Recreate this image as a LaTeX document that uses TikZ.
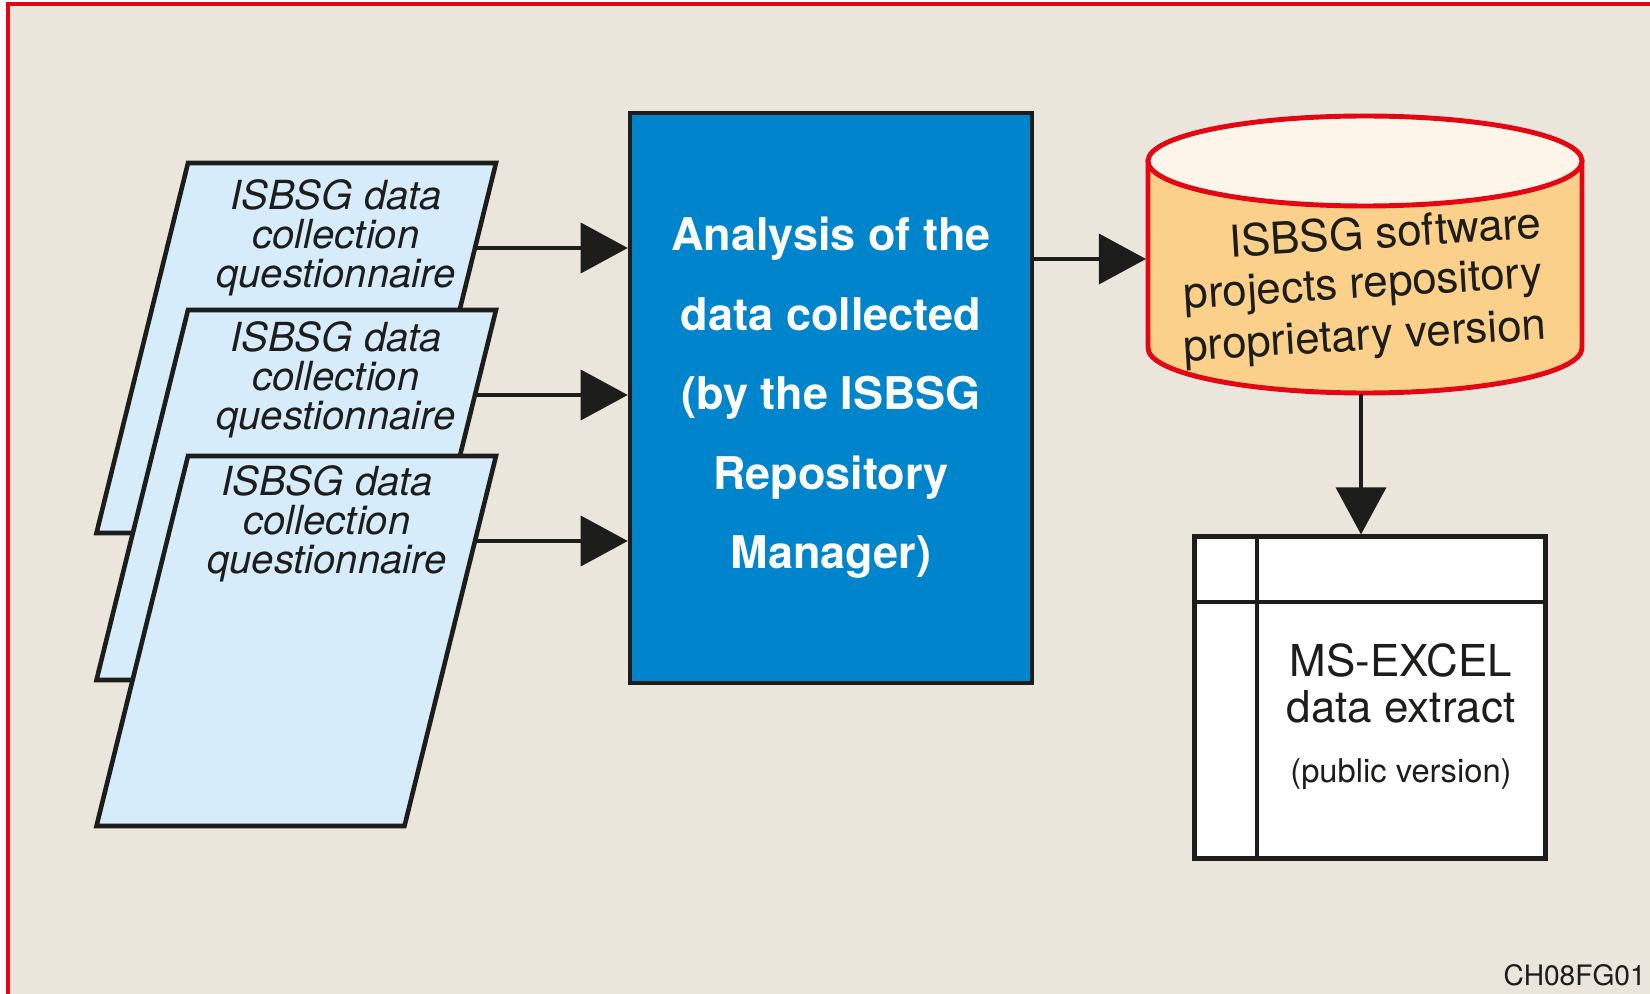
\documentclass[tikz,border=0pt]{standalone}
\usepackage{fontspec}
\setmainfont{TeX Gyre Heros}
\usepackage{tikz}
\usetikzlibrary{arrows.meta}

\definecolor{paper}{RGB}{234,230,220}
\definecolor{rimred}{RGB}{227,6,19}
\definecolor{ink}{RGB}{29,29,27}
\definecolor{sheet}{RGB}{214,236,250}
\definecolor{boxblue}{RGB}{0,133,204}
\definecolor{drum}{RGB}{251,208,138}
\definecolor{drumtop}{RGB}{253,245,233}

\begin{document}
\begin{tikzpicture}[x=0.01cm, y=-0.01cm,
		flow/.style={draw=ink, line width=1pt, -{Triangle[length=0.47cm, width=0.5cm]}},
		qtext/.style={font=\fontsize{11.4}{11.1}\selectfont\itshape, align=center, text=ink, inner sep=0pt},
		rtext/.style={anchor=base east, rotate=3.5, inner sep=0pt, text=ink, font=\fontsize{12.5}{14}\selectfont}]
		\def\w{308};
		\def\h{370};
		\def\sk{91.5};

		\def\rx{217};
		\def\ry{45};

		\useasboundingbox (0,0) rectangle (1650,994);
		\fill[white] (0,0) rectangle (1650,994);
		\fill[paper] (8,4) rectangle (1650,994);
		\draw[rimred, line width=0.9pt] (8,994) -- (8,4) -- (1650,4);

		% questionnaires
		\begin{scope}[draw=ink, fill=sheet, line width=1.3pt]
			\filldraw (188,163) -- ++(\w,0) -- ++(-\sk,\h) -- ++(-\w,0) -- cycle;
			\filldraw (188,310) -- ++(\w,0) -- ++(-\sk,\h) -- ++(-\w,0) -- cycle;
			\filldraw (188,456) -- ++(\w,0) -- ++(-\sk,\h) -- ++(-\w,0) -- cycle;
		\end{scope}

		\node[qtext] (q1) at (336,238) {ISBSG data\\collection\\questionnaire};
		\node[qtext] (q2) at (336,380) {ISBSG data\\collection\\questionnaire};
		\node[qtext] (q3) at (327,524) {ISBSG data\\collection\\questionnaire};

		\coordinate (q1e) at (475,248);
		\coordinate (q2e) at (475,395);
		\coordinate (q3e) at (475,541);

		\node[draw=ink, line width=1.2pt, fill=boxblue, text=white, align=center,
			minimum width=4.02cm, minimum height=5.7cm,
			font=\fontsize{12.8}{22.6}\selectfont\bfseries] (ana) at (831,398)
			{Analysis of the\\data collected\\(by the ISBSG\\Repository\\Manager)};

		\draw[flow] (q1e) -- (q1e -| ana.west);
		\draw[flow] (q2e) -- (q2e -| ana.west);
		\draw[flow] (q3e) -- (q3e -| ana.west);

		% repository
		\begin{scope}[draw=rimred, line width=1.4pt]
			\filldraw[fill=drum] (1148,161) -- (1148,348)
				arc[start angle=180, end angle=0, x radius=\rx, y radius=\ry] -- (1582,161) -- cycle;
			\filldraw[fill=drumtop] (1365,161) ellipse [x radius=\rx, y radius=\ry];
		\end{scope}

		\node[rtext] (repo1) at (1543,238) {ISBSG software};
		\node[rtext] (repo2) at (1544,287) {projects repository};
		\node[rtext] (repo3) at (1548,339) {proprietary version};

		\coordinate (repoW) at (1146,259);
		\coordinate (repoS) at (1361,394);

		\draw[flow] (ana.east |- repoW) -- (repoW);

		% excel extract
		\node[draw=ink, line width=1.4pt, fill=white, minimum width=3.51cm, minimum height=3.21cm] (xl) at (1370,697.5) {};
		\draw[ink, line width=1.4pt] (1257,537.5) -- (1257,857.5);
		\draw[ink, line width=1.4pt] (1194.5,602) -- (1545.5,602);

		\draw[flow] (repoS) -- (repoS |- xl.north);

		\node[anchor=base, text=ink, font=\fontsize{12.5}{13}\selectfont] (xl1) at (1401,677) {MS-EXCEL};
		\node[anchor=base, text=ink, font=\fontsize{12.5}{13}\selectfont] (xl2) at (1401,722) {data extract};
		\node[anchor=base, text=ink, font=\fontsize{9.3}{10}\selectfont] (xl3) at (1401,783) {(public version)};

		\node[anchor=base west, inner sep=0pt, text=ink, font=\fontsize{8}{9}\selectfont] (tag) at (1503,985) {CH08FG01};
	\end{tikzpicture}
\end{document}
